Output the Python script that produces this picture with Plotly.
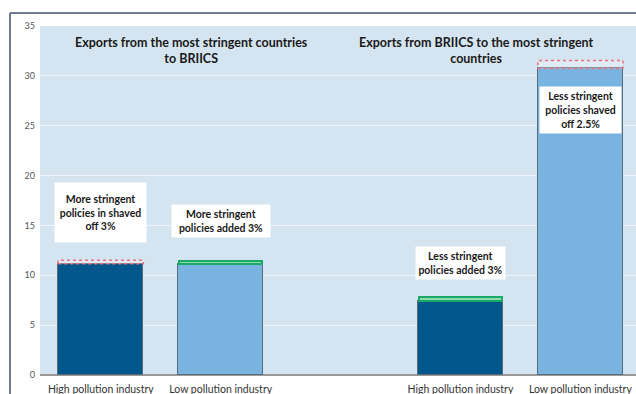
import plotly.graph_objects as go

# Data
positions = [0, 1, 3, 4]
tick_labels = ["High pollution industry", "Low pollution industry",
               "High pollution industry", "Low pollution industry"]
base_values = [11.15, 11.1, 7.45, 30.75]      # bar after policy change (solid part)
added_values = [0.0, 0.35, 0.35, 0.0]         # green band (added exports)
shaved_values = [0.35, 0.0, 0.0, 0.8]         # red dotted box (shaved-off exports)
bar_colors = ["#02588c", "#79b4e1", "#02588c", "#79b4e1"]
panel_titles = ["Exports from the most stringent countries<br>to BRIICS",
                "Exports from BRIICS to the most stringent<br>countries"]
notes = ["More stringent<br>policies in shaved<br>off 3%",
         "More stringent<br>policies added 3%",
         "Less stringent<br>policies added 3%",
         "Less stringent<br>policies shaved<br>off 2.5%"]
note_y = [16.3, 15.4, 11.2, 26.55]
note_size = [(91, 59), (98, 32), (89, 32), (81, 46)]

BAR_W = 0.71
FONT = "Lato"

fig = go.Figure()
fig.add_trace(go.Bar(
    x=positions, y=base_values, width=BAR_W,
    marker=dict(color=bar_colors, line=dict(color="#5b6b78", width=1)),
    showlegend=False, hoverinfo="skip"))
fig.add_trace(go.Bar(
    x=positions, y=added_values, width=BAR_W - 0.02,
    marker=dict(color=["rgba(0,0,0,0)" if v == 0 else "#8fdcaa" for v in added_values],
                line=dict(color=["rgba(0,0,0,0)" if v == 0 else "#1aaa68" for v in added_values],
                          width=2)),
    showlegend=False, hoverinfo="skip"))
fig.update_layout(barmode="stack")

# red dotted outline for the shaved-off part
for xp, b, s in zip(positions, base_values, shaved_values):
    if s > 0:
        fig.add_shape(type="rect", xref="x", yref="y",
                      x0=xp - BAR_W / 2, x1=xp + BAR_W / 2, y0=b, y1=b + s,
                      line=dict(color="#f0707a", width=1.5, dash="dot"),
                      fillcolor="rgba(255,255,255,0.25)", layer="above")

# panel titles
for xt, t in zip([0.76, 3.13], panel_titles):
    fig.add_annotation(x=xt, xref="x", y=34.3, yref="y", text="<b>" + t + "</b>",
                       showarrow=False, yanchor="top",
                       font=dict(family=FONT, size=12.5, color="#1a1a1a"))

# note boxes
for xp, t, ny, (w, h) in zip(positions, notes, note_y, note_size):
    fig.add_annotation(x=xp, xref="x", y=ny, yref="y", text="<b>" + t + "</b>",
                       showarrow=False, bgcolor="white", width=w - 4, height=h - 4,
                       borderpad=2, align="center",
                       font=dict(family=FONT, size=10.5, color="#1a1a1a"))

# outer frame lines
fig.add_shape(type="line", xref="paper", yref="paper", x0=-0.0503, x1=1.02,
              y0=1.0372, y1=1.0372, line=dict(color="#3f5070", width=1.5))
fig.add_shape(type="line", xref="paper", yref="paper", x0=-0.0503, x1=-0.0503,
              y0=1.0372, y1=-0.1, line=dict(color="#3f5070", width=1.5))

fig.update_layout(
    width=636, height=394,
    margin=dict(l=40, r=0, t=26, b=19),
    paper_bgcolor="white", plot_bgcolor="#d4e5f1",
    bargap=0,
    font=dict(family=FONT),
    xaxis=dict(range=[-0.507, 4.464], tickvals=positions, ticktext=tick_labels,
               showgrid=False, zeroline=False, showline=False, ticks="",
               tickfont=dict(size=10.5, color="#333333"), ticklabelstandoff=6),
    yaxis=dict(range=[0, 35], dtick=5, showgrid=True, gridcolor="#eef4f9", gridwidth=1,
               zeroline=True, zerolinecolor="#999999", zerolinewidth=1.5,
               ticks="", tickfont=dict(size=9, color="#555555"), ticklabelstandoff=4),
)

fig.write_html("out.html", config={"displayModeBar": False},
               post_script="document.body.style.margin='0';document.body.style.overflow='hidden';")
